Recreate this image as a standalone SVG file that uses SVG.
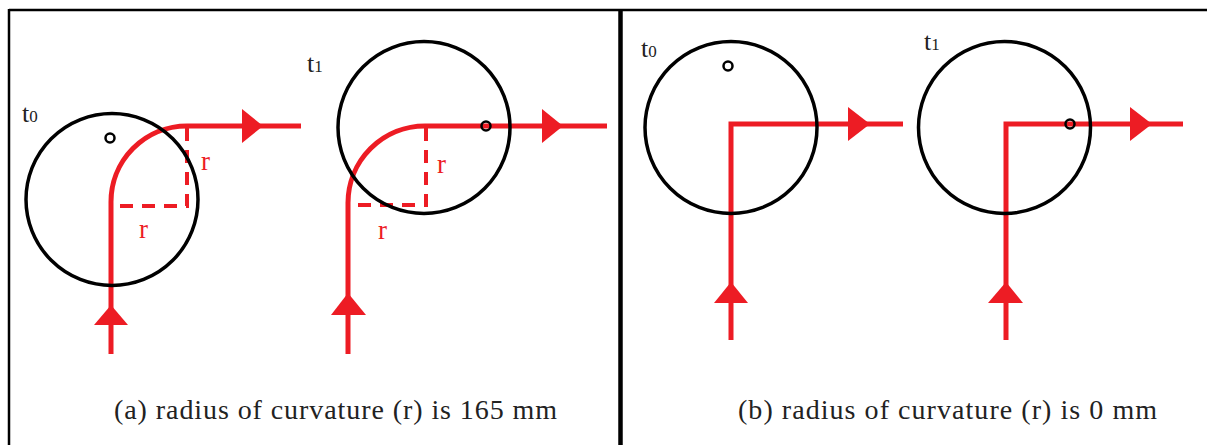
<svg xmlns="http://www.w3.org/2000/svg" width="1207" height="445" viewBox="0 0 1207 445">
<style>
.frame{stroke:#000;fill:none}
.wheel{stroke:#000;stroke-width:3.5;fill:none}
.dot{stroke:#000;stroke-width:2.5;fill:none}
.path{stroke:#ed1c24;stroke-width:5;fill:none}
.dash{stroke:#ed1c24;stroke-width:4;fill:none;stroke-dasharray:13,9}
.head{fill:#ed1c24}
text{font-family:Liberation Serif, Times New Roman, Times, serif}
.lbl{font-size:26px;fill:#222}
.sub{font-size:17px}
.rl{font-size:27px;fill:#ed1c24}
.cap{font-size:28px;fill:#222}
</style>
<rect width="1207" height="445" fill="#fff"/>
<g id="frame">
<line class="frame" x1="9" y1="10" x2="1207" y2="10" stroke-width="2.5"/>
<line class="frame" x1="9" y1="9" x2="9" y2="445" stroke-width="2.5"/>
<line class="frame" x1="620.5" y1="9" x2="620.5" y2="445" stroke-width="4.5"/>
</g>
<g id="connectors">
<path class="path" d="M111,354 V203 A76,76 0 0 1 187,126 H301"/>
<path class="dash" d="M187,128 V206 H113"/>
<path class="path" d="M348,354 V203 A77,77 0 0 1 425,126 H607"/>
<path class="dash" d="M426,128 V205 H350"/>
<path class="path" d="M731,340 V124 H903"/>
<path class="path" d="M1006,340 V124 H1183"/>
</g>
<g id="arrows">
<polygon class="head" points="94,325 128,325 111,305"/>
<polygon class="head" points="242,109 242,143 263,126"/>
<polygon class="head" points="331,315 366,315 348,293"/>
<polygon class="head" points="542,109 542,143 563,126"/>
<polygon class="head" points="714,303 748,303 731,282"/>
<polygon class="head" points="848,107 848,141 870,124"/>
<polygon class="head" points="988,303 1023,303 1006,282"/>
<polygon class="head" points="1130,107 1130,141 1152,124"/>
</g>
<g id="node-a-t0">
<circle class="wheel" cx="112" cy="199.5" r="86"/>
<circle class="dot" cx="110" cy="138" r="4.5"/>
<text class="lbl" x="22" y="122">t<tspan class="sub">0</tspan></text>
<text class="rl" x="201" y="170">r</text>
<text class="rl" x="139" y="238">r</text>
</g>
<g id="node-a-t1">
<circle class="wheel" cx="424" cy="127.5" r="86"/>
<circle class="dot" cx="486" cy="126" r="4.5"/>
<text class="lbl" x="307" y="72">t<tspan class="sub">1</tspan></text>
<text class="rl" x="437" y="173">r</text>
<text class="rl" x="378" y="239">r</text>
</g>
<g id="node-b-t0">
<circle class="wheel" cx="731" cy="127.5" r="86"/>
<circle class="dot" cx="728" cy="66" r="4.5"/>
<text class="lbl" x="641" y="57">t<tspan class="sub">0</tspan></text>
</g>
<g id="node-b-t1">
<circle class="wheel" cx="1004.5" cy="127.5" r="86"/>
<circle class="dot" cx="1070" cy="124" r="4.5"/>
<text class="lbl" x="924" y="50">t<tspan class="sub">1</tspan></text>
</g>
<g id="captions">
<text class="cap" x="114" y="419" textLength="443" lengthAdjust="spacing">(a) radius of curvature (r) is 165 mm</text>
<text class="cap" x="738" y="419" textLength="419" lengthAdjust="spacing">(b) radius of curvature (r) is 0 mm</text>
</g>
</svg>
